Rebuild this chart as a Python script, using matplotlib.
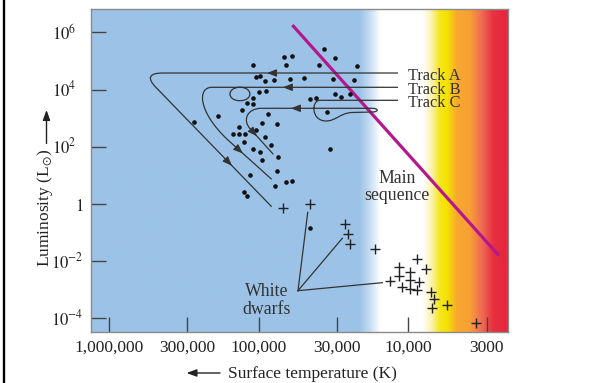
import numpy as np
import matplotlib
matplotlib.use('Agg')
import matplotlib.pyplot as plt
from matplotlib.path import Path
from matplotlib.patches import PathPatch
from matplotlib.colors import LinearSegmentedColormap
from matplotlib.lines import Line2D
from matplotlib.ticker import NullLocator

plt.rcParams['font.family'] = ['Liberation Serif', 'DejaVu Serif']
plt.rcParams['mathtext.fontset'] = 'stix'

# stars seen as dots (log10 T [K], log10 L [Lsun])
dot_logT = [5.04, 4.83, 4.78, 4.82, 5.02, 4.99, 4.96, 4.90, 4.79, 5.00,
            4.95, 5.04, 5.08, 5.04, 5.11, 5.27, 5.43, 4.94, 4.98, 4.88,
            5.13, 5.17, 5.13, 5.09, 5.02, 4.96, 5.10, 4.92, 5.04, 4.99,
            4.87, 4.98, 5.06, 4.88, 4.82, 4.78, 4.89, 5.10, 5.08, 4.56,
            4.49, 4.60, 4.34, 4.70, 4.50, 4.36, 4.66, 4.62, 4.49, 4.45,
            4.39, 4.54, 4.52, 4.66]
dot_logL = [4.86, 5.15, 5.18, 4.86, 4.45, 4.46, 4.30, 4.34, 4.36, 3.91,
            3.96, 3.69, 3.54, 3.48, 3.28, 3.08, 2.87, 3.15, 2.84, 2.78,
            2.68, 2.43, 2.43, 2.45, 2.58, 2.34, 2.15, 2.06, 1.91, 1.80,
            1.65, 1.55, 1.01, 1.15, 0.78, 0.80, 0.63, 0.41, 0.27, 5.41,
            5.11, 4.86, 4.82, 4.41, 4.36, 4.32, 3.67, 3.71, 3.83, 3.75,
            3.85, 3.21, 1.92, -0.83]

# white dwarfs (crosses)
wd_logT = [4.84, 4.66, 4.42, 4.40, 4.39, 4.22, 3.94, 4.06, 3.99, 3.88, 4.06,
           3.99, 3.93, 4.12, 4.04, 3.99, 3.94, 3.85, 3.83, 3.84, 3.74, 3.55]
wd_logL = [-0.14, -0.01, -0.70, -1.06, -1.40, -1.59, -1.93, -2.22, -2.37,
           -2.28, -2.53, -2.66, -2.73, -2.69, -2.90, -2.97, -3.00, -3.09,
           -3.33, -3.65, -3.54, -4.17]

# main sequence end points
ms_logT = [4.775, 3.394]
ms_logL = [6.255, -1.811]

# evolutionary tracks: path vertices (log T, log L) and path codes
M, L3, L4, LN = Path.MOVETO, Path.CURVE3, Path.CURVE4, Path.LINETO
track_a = [(4.069, 4.577), (5.639, 4.577), (5.780, 4.577), (5.686, 4.073),
           (4.913, -0.098)]
track_a_codes = [M, LN, L3, L3, LN]
track_b = [(4.069, 4.077), (5.125, 4.077),
           (5.214, 4.077), (5.214, 3.608), (5.125, 3.608),
           (5.036, 3.608), (5.036, 4.077), (5.125, 4.077),
           (5.312, 4.077),
           (5.412, 4.077), (5.405, 3.213), (5.205, 2.234),
           (4.913, 0.860)]
track_b_codes = [M, LN, L4, L4, L4, L4, L4, L4, LN, L4, L4, L4, LN]
track_c = [(4.069, 3.622), (4.590, 3.622),
           (4.650, 3.622), (4.650, 2.899), (4.550, 2.899),
           (4.483, 2.899), (4.456, 3.178), (4.376, 3.196),
           (4.243, 3.213),
           (4.196, 3.213), (4.196, 3.343), (4.243, 3.343),
           (4.978, 3.343),
           (5.085, 3.343), (5.105, 2.899), (5.058, 2.636),
           (4.902, 1.734)]
track_c_codes = [M, LN, L4, L4, L4, L4, L4, L4, LN, L4, L4, L4, LN,
                 L4, L4, L4, LN]
track_names = ['Track A', 'Track B', 'Track C']
# arrow heads: (segment end index, fraction along the segment)
track_arrows = [[(1, 0.557), (4, 0.657)],
                [(1, 0.728), (12, 0.34)],
                [(12, 0.736), (16, 0.30)]]

temp_ticks = [1e6, 3e5, 1e5, 3e4, 1e4, 3e3]
temp_labels = ['1,000,000', '300,000', '100,000', '30,000', '10,000', '3000']
lum_ticks = [1e6, 1e4, 1e2, 1, 1e-2, 1e-4]
lum_labels = ['$10^{6}$', '$10^{4}$', '$10^{2}$', '$1$', '$10^{-2}$', '$10^{-4}$']

track_color = '#333333'
FS = 12.8

fig = plt.figure(figsize=(5.97, 3.83), dpi=100)
rect = [91 / 597, 1 - 332.3 / 383, 416.7 / 597, 323.3 / 383]

# background colour strip (blue -> white -> yellow -> red)
stops = [(0.0, '#9cc3e7'), (0.645, '#9cc3e7'), (0.668, '#c3dbf1'),
         (0.695, '#ffffff'), (0.797, '#ffffff'), (0.818, '#fbf2b0'),
         (0.838, '#f6e61a'), (0.855, '#f4e200'), (0.880, '#f8a830'),
         (0.910, '#f7a035'), (0.940, '#ef6a55'), (0.966, '#e8303f'),
         (1.0, '#e62540')]
cmap = LinearSegmentedColormap.from_list('hr', stops)
bg = fig.add_axes(rect, zorder=0)
bg.imshow(np.linspace(0, 1, 1024).reshape(1, -1), aspect='auto', cmap=cmap,
          extent=[0, 1, 0, 1])
bg.set_axis_off()

ax = fig.add_axes(rect, zorder=1)
ax.patch.set_visible(False)
ax.set_xscale('log')
ax.set_yscale('log')
ax.set_xlim(10 ** 6.12, 10 ** 3.336)
ax.set_ylim(10 ** -4.49, 10 ** 6.815)

ax.set_xticks(temp_ticks, labels=temp_labels)
ax.set_yticks(lum_ticks, labels=[''] * len(lum_ticks))
ax.xaxis.set_minor_locator(NullLocator())
ax.yaxis.set_minor_locator(NullLocator())
ax.tick_params(direction='in', length=11, width=1, color='#444444',
               top=False, right=False)
ax.tick_params(axis='x', labelsize=12.5, pad=5.5, labelcolor='#222222')
for s in ax.spines.values():
    s.set_color('#8a8a8a')
    s.set_linewidth(1.0)

# y tick labels as text, hanging left of the axis
for val, lab in zip(lum_ticks, lum_labels):
    gap = 15 if val > 1 else 7.5
    ax.annotate(lab, xy=(0, val), xycoords=ax.get_yaxis_transform(),
                xytext=(-gap, -7), textcoords='offset pixels',
                ha='right', va='baseline', fontsize=12, color='#222222')

# main sequence
ax.plot(10 ** np.array(ms_logT), 10 ** np.array(ms_logL), color='#b5178c',
        lw=2.3, solid_capstyle='butt', zorder=3)

# stars
ax.plot(10 ** np.array(dot_logT), 10 ** np.array(dot_logL), 'o', ms=3.3,
        color='#111111', mec='none', zorder=4)
ax.plot(10 ** np.array(wd_logT), 10 ** np.array(wd_logL), '+', ms=7,
        mew=1.0, color='#222222', zorder=4)

# tracks
tracks = [(track_a, track_a_codes), (track_b, track_b_codes),
          (track_c, track_c_codes)]
for (verts, codes), name, arrows in zip(tracks, track_names, track_arrows):
    v = 10 ** np.array(verts)
    ax.add_patch(PathPatch(Path(v, codes), fill=False, ec=track_color,
                           lw=0.9, zorder=5))
    ax.annotate(name, xy=v[0], xytext=(9.7, -6.5), textcoords='offset pixels',
                ha='left', va='baseline', fontsize=11.8, color='#333333')
    for idx, frac in arrows:
        p0 = np.array(verts[idx - 1])
        p1 = np.array(verts[idx])
        tip = 10 ** (p0 + frac * (p1 - p0))
        d = ax.transData.transform(10 ** p1) - ax.transData.transform(10 ** p0)
        u = d / np.hypot(*d)
        ax.annotate('', xy=tip, xytext=(-u[0] * 7, -u[1] * 7),
                    textcoords='offset pixels', zorder=6,
                    arrowprops=dict(arrowstyle='-|>,head_length=0.55,head_width=0.22',
                                    color=track_color, lw=0.9, shrinkA=0,
                                    shrinkB=0, mutation_scale=10))

# white dwarf pointer lines
hub = (4.737, -3.035)
for end in [(4.672, -0.294), (4.441, -1.203), (4.174, -2.755)]:
    ax.plot([10 ** hub[0], 10 ** end[0]], [10 ** hub[1], 10 ** end[1]],
            color=track_color, lw=0.9, zorder=5)
ax.text(10 ** 4.944, 10 ** -3.388, 'White\ndwarfs', ha='center', va='center',
        fontsize=FS, linespacing=1.05, color='#333333', zorder=6)
ax.text(10 ** 4.0735, 10 ** 0.591, 'Main\nsequence', ha='center',
        va='center', fontsize=FS, linespacing=1.0, color='#333333', zorder=6)

# axis labels with arrows
fig.text(45 / 597, 1 - 207.7 / 383, 'Luminosity (L$_{\\odot}$)', rotation=90,
         ha='center', va='center', fontsize=12.5, color='#222222')
fig.add_artist(matplotlib.text.Annotation(
    '', xy=(46.5, 383 - 110), xytext=(46.5, 383 - 143.5),
    xycoords='figure pixels', textcoords='figure pixels',
    arrowprops=dict(arrowstyle='-|>,head_length=0.6,head_width=0.22',
                    color='#222222', lw=1.0, shrinkA=0, shrinkB=0,
                    mutation_scale=10)))
fig.text(227.7 / 597, 1 - 377.7 / 383, 'Surface temperature (K)', ha='left',
         va='baseline', fontsize=12.5, color='#222222')
fig.add_artist(matplotlib.text.Annotation(
    '', xy=(186.5, 383 - 373), xytext=(220, 383 - 373),
    xycoords='figure pixels', textcoords='figure pixels',
    arrowprops=dict(arrowstyle='-|>,head_length=0.6,head_width=0.22',
                    color='#222222', lw=1.0, shrinkA=0, shrinkB=0,
                    mutation_scale=10)))

# black frame edge on the left of the page
fig.add_artist(Line2D([3.8 / 597, 3.8 / 597], [0, 1],
                      transform=fig.transFigure, color='black', lw=1.7))

fig.savefig('out.png', dpi=100)
